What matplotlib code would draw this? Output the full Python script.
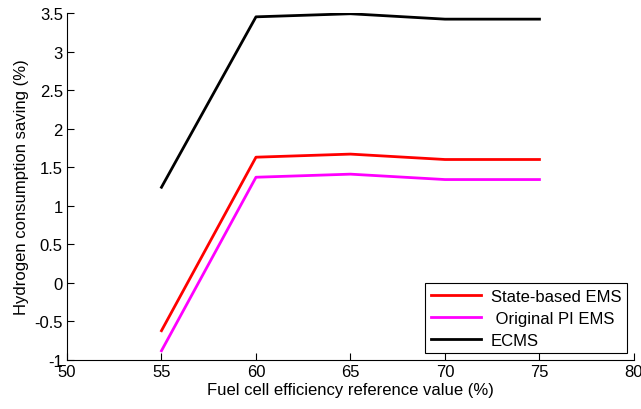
import matplotlib
matplotlib.use("Agg")
import matplotlib.pyplot as plt

plt.rcParams['font.family'] = ['Liberation Sans', 'DejaVu Sans']

eff_ref = [55, 60, 65, 70, 75]
state_based = [-0.62, 1.63, 1.67, 1.60, 1.60]
original_pi = [-0.88, 1.37, 1.41, 1.34, 1.34]
ecms = [1.24, 3.45, 3.49, 3.42, 3.42]

x_ticks = [50, 55, 60, 65, 70, 75, 80]
y_ticks = [-1, -0.5, 0, 0.5, 1, 1.5, 2, 2.5, 3, 3.5]
y_tick_labels = ['-1', '-0.5', '0', '0.5', '1', '1.5', '2', '2.5', '3', '3.5']

fig = plt.figure(figsize=(6.41, 4.10), dpi=100)
ax = fig.add_axes([0.1045, 0.1195, 0.8845, 0.8464])

ax.plot(eff_ref, state_based, color='#ff0000', lw=2, label='State-based EMS')
ax.plot(eff_ref, original_pi, color='#ff00ff', lw=2, label=' Original PI EMS')
ax.plot(eff_ref, ecms, color='#000000', lw=2, label='ECMS')

ax.set_xlim(50, 80)
ax.set_ylim(-1, 3.5)
ax.set_xticks(x_ticks)
ax.set_yticks(y_ticks)
ax.set_yticklabels(y_tick_labels)
ax.tick_params(direction='in', labelsize=12, length=5, width=0.8, pad=3)

for side in ('top', 'right'):
    ax.spines[side].set_visible(False)

ax.set_xlabel('Fuel cell efficiency reference value (%)', fontsize=12, labelpad=2)
ax.set_ylabel('Hydrogen consumption saving (%)', fontsize=12, labelpad=4)

leg = ax.legend(loc='lower right', fontsize=12, frameon=True, fancybox=False,
                edgecolor='black', framealpha=1, handlelength=3.0,
                borderaxespad=0.4, labelspacing=0.4, borderpad=0.35,
                handletextpad=0.6)
leg.get_frame().set_linewidth(0.8)

fig.savefig('out.png', dpi=100)
